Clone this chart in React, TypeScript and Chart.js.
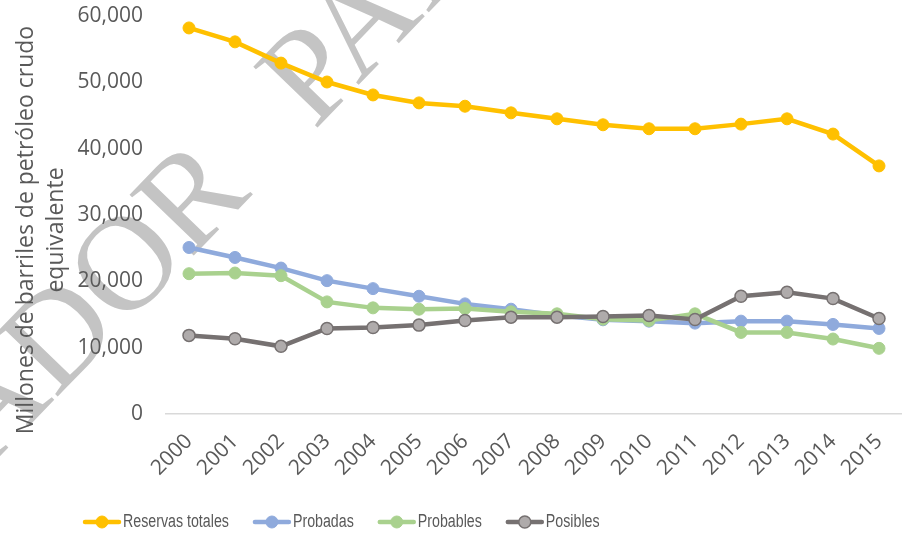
import { useEffect, useRef } from 'react';
import { Chart, registerables } from 'chart.js';

Chart.register(...registerables);

const years = ['2000', '2001', '2002', '2003', '2004', '2005', '2006', '2007', '2008', '2009', '2010', '2011', '2012', '2013', '2014', '2015'];
const reservasTotales = [58200, 56100, 52900, 50050, 48100, 46900, 46400, 45400, 44500, 43600, 43000, 43000, 43700, 44500, 42200, 37400];
const probadas = [25100, 23600, 22000, 20100, 18900, 17750, 16600, 15800, 14900, 14200, 14000, 13700, 14000, 14000, 13500, 12900];
const probables = [21150, 21250, 20850, 16900, 16000, 15800, 15900, 15400, 15100, 14300, 14100, 15100, 12300, 12300, 11300, 9900];
const posibles = [11850, 11350, 10200, 12900, 13050, 13400, 14100, 14600, 14600, 14700, 14850, 14250, 17750, 18350, 17400, 14400];
const seriesNames = ['Reservas totales', 'Probadas', 'Probables', 'Posibles'];
const yMin = 0;
const yMax = 60000;
const yStep = 10000;
const axisTitleLines = ['Millones de barriles de petróleo crudo', 'equivalente'];
const watermarkWords = ['BORRADOR', 'PARA'];

const TEXT = '#595959';
const TICK_FONT = { family: "'Open Sans', sans-serif", size: 21 };

const decorPlugin = {
  id: 'decor',
  beforeDraw(chart: any) {
    const ctx = chart.ctx;
    ctx.save();
    ctx.font = '135px "Liberation Serif", serif';
    ctx.fillStyle = '#C4C4C4';
    ctx.translate(317, 128);
    ctx.rotate((-46 * Math.PI) / 180);
    ctx.textBaseline = 'alphabetic';
    ctx.textAlign = 'right';
    ctx.fillText(watermarkWords[0], -92, 0);
    ctx.textAlign = 'left';
    ctx.fillText(watermarkWords[1], -4, 0);
    ctx.restore();
  },
  afterDraw(chart: any) {
    const ctx = chart.ctx;
    // axis title
    ctx.save();
    ctx.fillStyle = TEXT;
    ctx.font = "23px 'Open Sans', sans-serif";
    ctx.textAlign = 'center';
    ctx.textBaseline = 'alphabetic';
    const xs = [33, 63];
    axisTitleLines.forEach((line, i) => {
      ctx.save();
      ctx.translate(xs[i], 230);
      ctx.rotate(-Math.PI / 2);
      ctx.fillText(line, 0, 0);
      ctx.restore();
    });
    ctx.restore();

    // legend
    ctx.save();
    ctx.font = "18px 'Liberation Sans', sans-serif";
    ctx.textBaseline = 'middle';
    ctx.textAlign = 'left';
    const sx = 0.79;
    let x = 83;
    const y = 522;
    chart.data.datasets.forEach((ds: any) => {
      ctx.strokeStyle = ds.borderColor;
      ctx.lineWidth = 4.5;
      ctx.lineCap = 'round';
      ctx.beginPath();
      ctx.moveTo(x + 2, y);
      ctx.lineTo(x + 36, y);
      ctx.stroke();
      ctx.beginPath();
      ctx.arc(x + 19, y, 6, 0, Math.PI * 2);
      ctx.fillStyle = ds.pointBackgroundColor;
      ctx.fill();
      ctx.lineWidth = ds.pointBorderWidth;
      ctx.strokeStyle = ds.pointBorderColor;
      ctx.stroke();
      ctx.fillStyle = TEXT;
      const tx = x + 40;
      ctx.save();
      ctx.translate(tx, y);
      ctx.scale(sx, 1);
      ctx.fillText(ds.label, 0, 0);
      ctx.restore();
      x = tx + ctx.measureText(ds.label).width * sx + 24;
    });
    ctx.restore();
  },
};

function mkDataset(label: string, data: number[], line: string, fill: string, border: string, bw: number, order: number) {
  return {
    label,
    data,
    borderColor: line,
    backgroundColor: line,
    borderWidth: 4.5,
    pointRadius: 6,
    pointHoverRadius: 6,
    pointBackgroundColor: fill,
    pointBorderColor: border,
    pointBorderWidth: bw,
    tension: 0,
    order,
  };
}

export default function App() {
  const ref = useRef<HTMLCanvasElement | null>(null);
  useEffect(() => {
    document.body.style.margin = '0';
    const canvas = ref.current;
    if (!canvas) return;
    const chart = new Chart(canvas, {
      type: 'line',
      data: {
        labels: years,
        datasets: [
          mkDataset(seriesNames[0], reservasTotales, '#FFC000', '#FFC000', '#FFC000', 1, 4),
          mkDataset(seriesNames[1], probadas, '#8FAADC', '#8FAADC', '#8FAADC', 1, 3),
          mkDataset(seriesNames[2], probables, '#A9D18E', '#A9D18E', '#A9D18E', 1, 2),
          mkDataset(seriesNames[3], posibles, '#767171', '#AFABAB', '#767171', 1.5, 1),
        ],
      },
      options: {
        responsive: false,
        animation: false,
        layout: { autoPadding: false, padding: { top: 16, left: 0, right: 0, bottom: 40 } },
        plugins: {
          legend: { display: false },
          tooltip: { enabled: false },
          title: { display: false },
        },
        scales: {
          x: {
            offset: true,
            grid: { display: false, drawTicks: false },
            border: { display: true, color: '#D9D9D9', width: 1.5 },
            ticks: {
              color: TEXT,
              font: TICK_FONT,
              minRotation: 45,
              maxRotation: 45,
              padding: 15,
            },
            afterFit(scale: any) {
              scale.height = 83;
              scale.paddingLeft = 0;
              scale.paddingRight = 0;
            },
          },
          y: {
            min: yMin,
            max: yMax,
            grid: { display: false, drawTicks: false },
            border: { display: false },
            ticks: {
              stepSize: yStep,
              color: TEXT,
              font: TICK_FONT,
              padding: 23,
              callback: (v: any) => Number(v).toLocaleString('en-US'),
            },
            afterFit(scale: any) {
              scale.width = 166;
              scale.paddingTop = 0;
              scale.paddingBottom = 0;
            },
          },
        },
      },
      plugins: [decorPlugin],
    });
    return () => chart.destroy();
  }, []);
  return (
    <div style={{ width: 902, height: 537, overflow: 'hidden' }}>
      <canvas ref={ref} width={902} height={537} style={{ display: 'block' }} />
    </div>
  );
}
